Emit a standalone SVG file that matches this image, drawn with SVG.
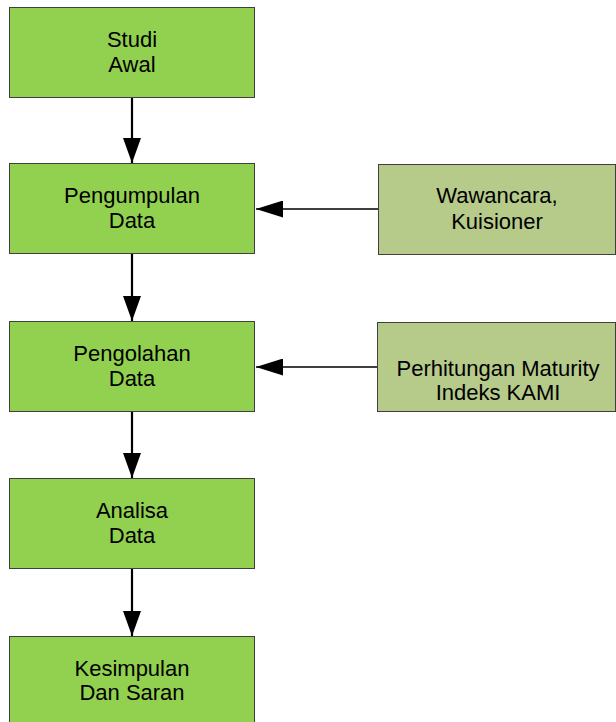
<svg xmlns="http://www.w3.org/2000/svg" width="616" height="722" viewBox="0 0 616 722">
<defs>
<style>
.g{fill:#92D050;stroke:#3F3F3F;stroke-width:1}
.o{fill:#B6CA8A;stroke:#3F3F3F;stroke-width:1}
text{font-family:"Liberation Sans",Arial,sans-serif;font-size:22px;fill:#000;text-anchor:middle}
.c{stroke:#000;fill:none}
.v{stroke-width:2.2}
.h{stroke-width:1.7}
</style>
<marker id="av" markerUnits="userSpaceOnUse" markerWidth="25" markerHeight="18" refX="25" refY="9" viewBox="0 0 25 18" orient="auto">
<path d="M0,0 L25,9 L0,18 Z" fill="#000"/>
</marker>
<marker id="ah" markerUnits="userSpaceOnUse" markerWidth="27" markerHeight="17" refX="27" refY="8.5" viewBox="0 0 27 17" orient="auto">
<path d="M0,0 L27,8.5 L0,17 Z" fill="#000"/>
</marker>
</defs>
<rect width="616" height="722" fill="#fff"/>
<g id="connectors">
<path class="c v" d="M132,97 V163" marker-end="url(#av)"/>
<path class="c v" d="M132,253 V321" marker-end="url(#av)"/>
<path class="c v" d="M132,411 V478" marker-end="url(#av)"/>
<path class="c v" d="M132,568 V636" marker-end="url(#av)"/>
<path class="c h" d="M378,209 H256" marker-end="url(#ah)"/>
<path class="c h" d="M377,367 H256" marker-end="url(#ah)"/>
</g>
<g id="studi-awal">
<rect class="g" x="9.5" y="7.5" width="245" height="90"/>
<text x="132" y="47">Studi</text>
<text x="132" y="72">Awal</text>
</g>
<g id="pengumpulan-data">
<rect class="g" x="9.5" y="163.5" width="245" height="90"/>
<text x="132" y="203">Pengumpulan</text>
<text x="132" y="228">Data</text>
</g>
<g id="pengolahan-data">
<rect class="g" x="9.5" y="321.5" width="245" height="90"/>
<text x="132" y="361">Pengolahan</text>
<text x="132" y="386">Data</text>
</g>
<g id="analisa-data">
<rect class="g" x="9.5" y="478.5" width="245" height="90"/>
<text x="132" y="518">Analisa</text>
<text x="132" y="543">Data</text>
</g>
<g id="kesimpulan">
<rect class="g" x="9.5" y="636.5" width="245" height="90"/>
<text x="132" y="676">Kesimpulan</text>
<text x="132" y="700">Dan Saran</text>
</g>
<g id="wawancara">
<rect class="o" x="378.5" y="164.5" width="237" height="90"/>
<text x="497" y="203">Wawancara,</text>
<text x="497" y="229">Kuisioner</text>
</g>
<g id="perhitungan">
<rect class="o" x="377.5" y="322.5" width="238" height="89"/>
<text x="498" y="376">Perhitungan Maturity</text>
<text x="498" y="400">Indeks KAMI</text>
</g>
</svg>
